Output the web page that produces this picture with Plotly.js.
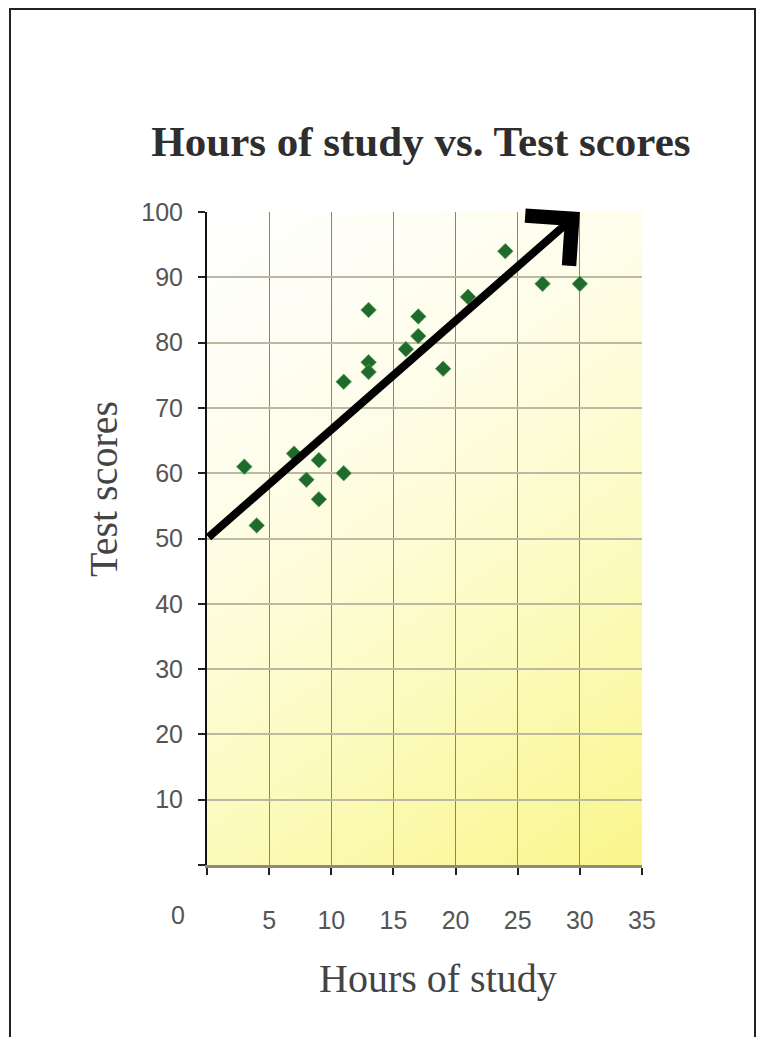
<!DOCTYPE html>
<html>
<head>
<meta charset="utf-8">
<script src="https://cdn.plot.ly/plotly-3.0.1.min.js"></script>
<style>
  html, body { margin: 0; padding: 0; background: #ffffff; }
  #wrap { position: relative; width: 757px; height: 1037px; overflow: hidden; }
  #chart { position: absolute; left: 0; top: 0; width: 757px; height: 1037px; }
  #frame { position: absolute; left: 9px; top: 8px; width: 747px; height: 1100px;
           border: 2px solid #222; box-sizing: border-box; pointer-events: none; }
</style>
</head>
<body>
<div id="wrap">
  <div id="chart"></div>
  <div id="frame"></div>
</div>
<script>
// ---- data ----
const hoursOfStudy = [3, 4, 7, 8, 9, 9, 11, 11, 13, 13, 13, 16, 17, 17, 19, 21, 24, 27, 30];
const testScores   = [61, 52, 63, 59, 62, 56, 60, 74, 85, 77, 75.5, 79, 84, 81, 76, 87, 94, 89, 89];
const trendX = [0, 30];
const trendY = [50, 100];
const xTickVals = [0, 5, 10, 15, 20, 25, 30, 35];
const xTickText = ['', '5', '10', '15', '20', '25', '30', '35'];
const yTickVals = [0, 10, 20, 30, 40, 50, 60, 70, 80, 90, 100];
const yTickText = ['', '10', '20', '30', '40', '50', '60', '70', '80', '90', '100'];
const chartTitle = 'Hours of study vs. Test scores';
const xTitle = 'Hours of study';
const yTitle = 'Test scores';

// gradient background for plot area
function gradientURL() {
  const c = document.createElement('canvas');
  c.width = 435; c.height = 653;
  const g = c.getContext('2d');
  const lg = g.createLinearGradient(0, 0, c.width, c.height);
  lg.addColorStop(0, '#ffffff');
  lg.addColorStop(0.3, '#fefdec');
  lg.addColorStop(0.65, '#fcfbc0');
  lg.addColorStop(1, '#f9f68c');
  g.fillStyle = lg;
  g.fillRect(0, 0, c.width, c.height);
  return c.toDataURL('image/png');
}

const tickFont = { family: 'Liberation Sans, Arial, sans-serif', size: 25, color: '#555555' };
const titleFontFamily = 'Liberation Serif, Times New Roman, serif';

const traces = [{
  type: 'scatter',
  mode: 'markers',
  x: hoursOfStudy,
  y: testScores,
  marker: { symbol: 'diamond', size: 12, color: '#1f6a2c',
            line: { color: 'rgba(90,170,90,0.7)', width: 1 } },
  hoverinfo: 'x+y',
  showlegend: false
}];

const layout = {
  width: 757,
  height: 1037,
  margin: { l: 207, r: 115, t: 212, b: 172 },
  paper_bgcolor: 'rgba(0,0,0,0)',
  plot_bgcolor: 'rgba(0,0,0,0)',
  showlegend: false,
  title: {
    text: '<b>' + chartTitle + '</b>',
    font: { family: titleFontFamily, size: 43, color: '#2e2e2e' },
    x: 0.556, xanchor: 'center',
    y: 0.864, yanchor: 'middle'
  },
  xaxis: {
    range: [0, 35],
    tickvals: xTickVals,
    ticktext: xTickText,
    tickfont: tickFont,
    ticks: 'outside', ticklen: 7, tickwidth: 2, tickcolor: '#222',
    ticklabelstandoff: 24,
    showline: true, linecolor: '#8c8c78', linewidth: 3,
    showgrid: true, gridcolor: '#85857c', gridwidth: 1,
    zeroline: false,
    fixedrange: true
  },
  yaxis: {
    range: [0, 100],
    tickvals: yTickVals,
    ticktext: yTickText,
    tickfont: tickFont,
    ticks: 'outside', ticklen: 7, tickwidth: 2, tickcolor: '#222',
    ticklabelstandoff: 10,
    showline: true, linecolor: '#111', linewidth: 2,
    showgrid: true, gridcolor: '#bab9a2', gridwidth: 2,
    zeroline: false,
    fixedrange: true
  },
  images: [{
    source: gradientURL(),
    xref: 'x', yref: 'y',
    x: 0, y: 100, sizex: 35, sizey: 100,
    xanchor: 'left', yanchor: 'top',
    sizing: 'stretch', layer: 'below'
  }],
  annotations: [
    {
      x: trendX[1], y: trendY[1], xref: 'x', yref: 'y',
      ax: trendX[0], ay: trendY[0], axref: 'x', ayref: 'y',
      showarrow: true, text: '',
      arrowhead: 4, arrowsize: 1.6, arrowwidth: 8, arrowcolor: '#000000',
      standoff: 0, startstandoff: 0
    },
    {
      x: xTickVals[0], y: 0, xref: 'x', yref: 'paper',
      text: '0', showarrow: false,
      font: tickFont,
      xanchor: 'center', yanchor: 'middle',
      xshift: -29, yshift: -50
    },
    {
      x: 438, y: 978, xref: 'paper', yref: 'paper',
      text: xTitle, showarrow: false,
      font: { family: titleFontFamily, size: 40, color: '#444' },
      xanchor: 'center', yanchor: 'middle'
    },
    {
      x: 103, y: 489, xref: 'paper', yref: 'paper',
      text: yTitle, showarrow: false, textangle: -90,
      font: { family: titleFontFamily, size: 40, color: '#444' },
      xanchor: 'center', yanchor: 'middle'
    }
  ]
};

// convert the two axis-title annotations from pixel positions to paper fractions
const pw = layout.width - layout.margin.l - layout.margin.r;
const ph = layout.height - layout.margin.t - layout.margin.b;
[2, 3].forEach(i => {
  const a = layout.annotations[i];
  a.x = (a.x - layout.margin.l) / pw;
  a.y = (layout.height - layout.margin.b - a.y) / ph;
});

Plotly.newPlot('chart', traces, layout, { displayModeBar: false, staticPlot: true });
</script>
</body>
</html>
